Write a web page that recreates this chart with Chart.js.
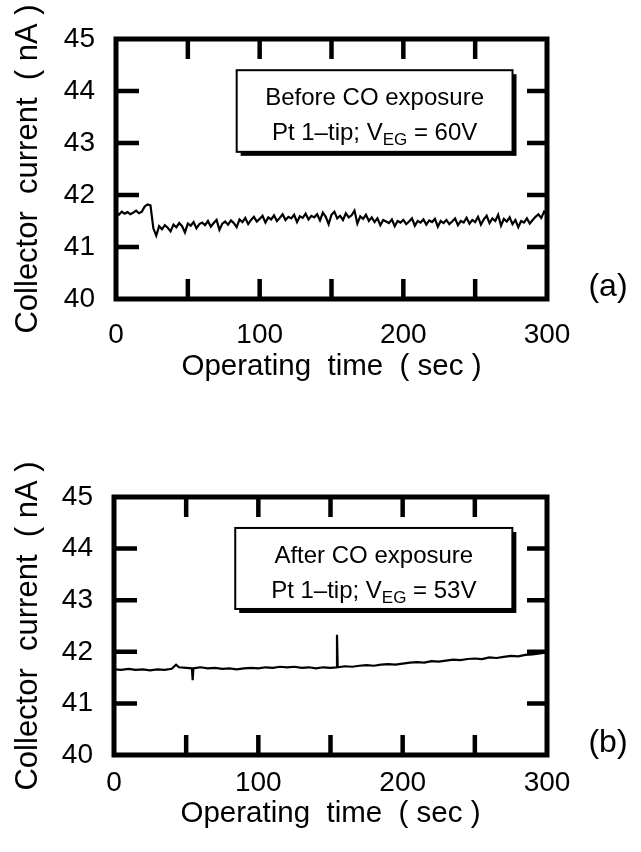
<!DOCTYPE html>
<html>
<head>
<meta charset="utf-8">
<script src="https://cdn.jsdelivr.net/npm/chart.js@4.4.0/dist/chart.umd.min.js"></script>
<style>
  body { margin: 0; background: #fff; }
  .panel { position: absolute; left: 0; width: 641px; height: 426px; }
  #panelA { top: 0; }
  #panelB { top: 426px; }
</style>
</head>
<body>
<div class="panel" id="panelA"><canvas id="chartA"></canvas></div>
<div class="panel" id="panelB"><canvas id="chartB"></canvas></div>
<script>
// (a) before CO exposure, sampled every 2 s
const timeA = [
  0, 2, 4, 6, 8, 10, 12, 14, 16, 18,
  20, 22, 24, 26, 28, 30, 32, 34, 36, 38,
  40, 42, 44, 46, 48, 50, 52, 54, 56, 58,
  60, 62, 64, 66, 68, 70, 72, 74, 76, 78,
  80, 82, 84, 86, 88, 90, 92, 94, 96, 98,
  100, 102, 104, 106, 108, 110, 112, 114, 116, 118,
  120, 122, 124, 126, 128, 130, 132, 134, 136, 138,
  140, 142, 144, 146, 148, 150, 152, 154, 156, 158,
  160, 162, 164, 166, 168, 170, 172, 174, 176, 178,
  180, 182, 184, 186, 188, 190, 192, 194, 196, 198,
  200, 202, 204, 206, 208, 210, 212, 214, 216, 218,
  220, 222, 224, 226, 228, 230, 232, 234, 236, 238,
  240, 242, 244, 246, 248, 250, 252, 254, 256, 258,
  260, 262, 264, 266, 268, 270, 272, 274, 276, 278,
  280, 282, 284, 286, 288, 290, 292, 294, 296, 298,
  300
];
const currentA = [
  41.66, 41.62, 41.68, 41.64, 41.67, 41.63, 41.66, 41.70, 41.65, 41.68,
  41.78, 41.82, 41.80, 41.36, 41.22, 41.40, 41.34, 41.42, 41.37, 41.30,
  41.43, 41.38, 41.46, 41.40, 41.28, 41.45, 41.41, 41.48, 41.36, 41.44,
  41.47, 41.42, 41.50, 41.39, 41.46, 41.52, 41.33, 41.45, 41.49, 41.43,
  41.51, 41.46, 41.38, 41.53, 41.48, 41.56, 41.44, 41.52, 41.58, 41.49,
  41.54, 41.60, 41.47, 41.57, 41.53, 41.61, 41.50, 41.56, 41.63, 41.52,
  41.58, 41.55, 41.62, 41.48, 41.59, 41.56, 41.64, 41.53, 41.60, 41.57,
  41.63, 41.51, 41.66, 41.58, 41.44, 41.62, 41.68, 41.55, 41.60, 41.52,
  41.65, 41.57, 41.61, 41.70, 41.45, 41.59, 41.54, 41.62, 41.50, 41.57,
  41.48, 41.55, 41.42, 41.52, 41.49, 41.46, 41.53, 41.40, 41.50, 41.47,
  41.52, 41.44, 41.49, 41.55, 41.41, 41.50, 41.47, 41.53, 41.43, 41.51,
  41.48, 41.54, 41.39, 41.50, 41.46, 41.52, 41.44, 41.49, 41.55, 41.42,
  41.50, 41.47, 41.56, 41.45, 41.52, 41.48, 41.58, 41.43, 41.53, 41.60,
  41.46, 41.55, 41.50, 41.62, 41.41, 41.54, 41.49, 41.57, 41.44, 41.52,
  41.38, 41.50, 41.47, 41.55, 41.45, 41.52, 41.58, 41.63, 41.56, 41.68,
  41.62
];

// (b) after CO exposure
const timeB = [
  0, 5, 10, 15, 20, 25, 30, 35, 40, 43,
  45, 50, 54, 54.5, 55, 60, 65, 70, 75, 80,
  85, 90, 95, 100, 105, 110, 115, 120, 125, 130,
  135, 140, 145, 150, 154, 154.5, 155, 160, 165, 170,
  175, 180, 185, 190, 195, 200, 205, 210, 215, 220,
  225, 230, 235, 240, 245, 250, 255, 260, 265, 270,
  275, 280, 285, 290, 295, 300
];
const currentB = [
  41.66, 41.65, 41.67, 41.65, 41.66, 41.64, 41.66, 41.65, 41.67, 41.75,
  41.70, 41.69, 41.68, 41.45, 41.68, 41.70, 41.68, 41.69, 41.67, 41.68,
  41.66, 41.68, 41.69, 41.68, 41.70, 41.69, 41.71, 41.70, 41.71, 41.69,
  41.70, 41.68, 41.70, 41.69, 41.70, 42.33, 41.70, 41.72, 41.71, 41.73,
  41.74, 41.73, 41.75, 41.76, 41.75, 41.77, 41.79, 41.80, 41.79, 41.82,
  41.81, 41.83, 41.85, 41.84, 41.86, 41.87, 41.86, 41.89, 41.88, 41.90,
  41.92, 41.91, 41.94, 41.95, 41.97, 41.99
];

const xLabels = [0, 100, 200, 300];
const yLabels = [40, 41, 42, 43, 44, 45];

Chart.defaults.font.family = "'Liberation Sans', Arial, Helvetica, sans-serif";
Chart.defaults.color = '#000';

function toPoints(xs, ys) {
  return xs.map((t, i) => ({ x: t, y: ys[i] }));
}

// frame with inward ticks on all four sides, the legend box and the panel tag
const framePlugin = {
  id: 'frame',
  afterDraw(chart, args, opts) {
    const ctx = chart.ctx;
    const a = chart.chartArea;
    const x = chart.scales.x, y = chart.scales.y;
    ctx.save();
    ctx.strokeStyle = '#000';
    ctx.lineWidth = 5;
    ctx.strokeRect(a.left, a.top, a.right - a.left, a.bottom - a.top);
    ctx.lineWidth = 4.5;
    ctx.beginPath();
    x.ticks.forEach(t => {
      if (t.value <= x.min || t.value >= x.max) return;
      const px = x.getPixelForValue(t.value);
      ctx.moveTo(px, a.top); ctx.lineTo(px, a.top + 20);
      ctx.moveTo(px, a.bottom); ctx.lineTo(px, a.bottom - 20);
    });
    y.ticks.forEach(t => {
      if (t.value <= y.min || t.value >= y.max) return;
      const py = y.getPixelForValue(t.value);
      ctx.moveTo(a.left, py); ctx.lineTo(a.left + 23, py);
      ctx.moveTo(a.right, py); ctx.lineTo(a.right - 20, py);
    });
    ctx.stroke();

    // note box with drop shadow
    const bx0 = x.getPixelForValue(opts.box[0]);
    const bx1 = x.getPixelForValue(opts.box[1]);
    const by0 = y.getPixelForValue(opts.box[2]);
    const by1 = y.getPixelForValue(opts.box[3]);
    const w = bx1 - bx0, h = by1 - by0;
    ctx.fillStyle = '#000';
    ctx.fillRect(bx0 + 4, by0 + 4, w, h);
    ctx.fillStyle = '#fff';
    ctx.fillRect(bx0, by0, w, h);
    ctx.lineWidth = 2;
    ctx.strokeRect(bx0, by0, w, h);

    const cx = (bx0 + bx1) / 2;
    const fam = Chart.defaults.font.family;
    ctx.fillStyle = '#000';
    ctx.textBaseline = 'alphabetic';
    ctx.textAlign = 'center';
    ctx.font = '24px ' + fam;
    ctx.fillText(opts.title, cx, by0 + 35);

    // second line: "Pt 1–tip; V" + subscript "EG" + " = xxV"
    ctx.textAlign = 'left';
    const mainFont = '24px ' + fam, subFont = '17px ' + fam;
    ctx.font = mainFont;
    const w1 = ctx.measureText(opts.pre).width;
    const w3 = ctx.measureText(opts.post).width;
    ctx.font = subFont;
    const w2 = ctx.measureText(opts.sub).width;
    let sx = cx - (w1 + w2 + w3) / 2;
    const base = by0 + 70;
    ctx.font = mainFont;
    ctx.fillText(opts.pre, sx, base);
    sx += w1;
    ctx.font = subFont;
    ctx.fillText(opts.sub, sx, base + 5);
    sx += w2;
    ctx.font = mainFont;
    ctx.fillText(opts.post, sx, base);

    // panel tag
    ctx.font = '32px ' + fam;
    ctx.textAlign = 'center';
    ctx.textBaseline = 'middle';
    ctx.fillText(opts.tag, a.right + 61, a.bottom - 12);
    ctx.restore();
  }
};

function makeChart(id, xs, ys, lw, geo, note) {
  const ctx = document.getElementById(id).getContext('2d');
  return new Chart(ctx, {
    type: 'line',
    data: {
      datasets: [{
        data: toPoints(xs, ys),
        borderColor: '#000',
        borderWidth: lw,
        pointRadius: 0,
        tension: 0,
        fill: false
      }]
    },
    options: {
      responsive: true,
      maintainAspectRatio: false,
      animation: false,
      layout: { padding: { left: 0, top: geo.top, right: 94, bottom: 0 } },
      plugins: {
        legend: { display: false },
        tooltip: { enabled: false },
        frame: note
      },
      scales: {
        x: {
          type: 'linear',
          min: 0, max: 300,
          grid: { display: false, drawTicks: false },
          border: { display: false },
          afterFit(s) { s.height = geo.xHeight; },
          ticks: {
            stepSize: 50,
            autoSkip: false,
            maxRotation: 0,
            padding: geo.xPad,
            font: { size: 28 },
            callback: v => xLabels.includes(v) ? String(v) : ''
          },
          title: {
            display: true,
            text: 'Operating  time  ( sec )',
            font: { size: 29.5 },
            padding: { top: 0, bottom: geo.xTitlePad }
          }
        },
        y: {
          min: 40, max: 45,
          grid: { display: false, drawTicks: false },
          border: { display: false },
          afterFit(s) { s.width = geo.left; },
          ticks: {
            stepSize: 1,
            padding: 21,
            font: { size: 28 },
            callback: v => yLabels.includes(v) ? String(v) : ''
          },
          title: {
            display: true,
            text: 'Collector  current  ( nA )',
            font: { size: 31 },
            padding: { top: 10, bottom: 0 }
          }
        }
      }
    },
    plugins: [framePlugin]
  });
}

window.chartA = makeChart('chartA', timeA, currentA, 2.2,
  { top: 39, left: 116, xHeight: 127, xPad: 19, xTitlePad: 41 },
  { box: [84, 276, 44.4, 42.83], title: 'Before CO exposure',
    pre: 'Pt 1\u2013tip; V', sub: 'EG', post: ' = 60V', tag: '(a)' });

window.chartB = makeChart('chartB', timeB, currentB, 2.2,
  { top: 71, left: 114, xHeight: 97, xPad: 11, xTitlePad: 20 },
  { box: [84, 276, 44.4, 42.83], title: 'After CO exposure',
    pre: 'Pt 1\u2013tip; V', sub: 'EG', post: ' = 53V', tag: '(b)' });
</script>
</body>
</html>
